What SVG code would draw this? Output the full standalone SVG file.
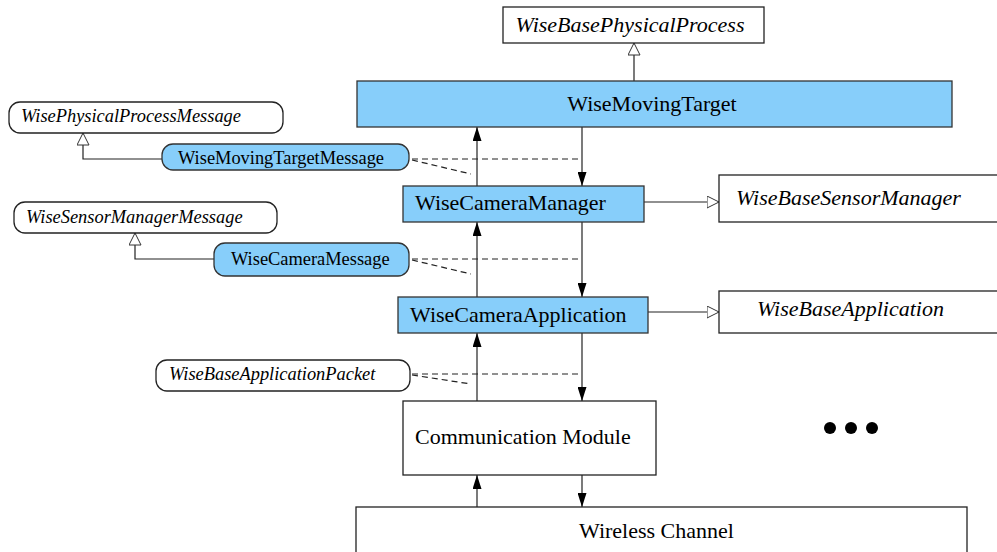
<svg xmlns="http://www.w3.org/2000/svg" width="997" height="552" viewBox="0 0 997 552">
<style>
.bg{fill:#fff}
.blue{fill:#87CEFA;stroke:#333;stroke-width:1.3}
.white{fill:#fff;stroke:#222;stroke-width:1.3}
.t{font-family:"Liberation Serif","Times New Roman",serif;fill:#000}
.big{font-size:22px}
.small{font-size:18.4px}
.it{font-style:italic}
.ln{fill:none;stroke:#222;stroke-width:1.2}
.dash{fill:none;stroke:#222;stroke-width:1.2;stroke-dasharray:6 4}
</style>
<defs>
<marker id="fa" viewBox="0 0 14 9" refX="14" refY="4.5" markerWidth="14" markerHeight="9" markerUnits="userSpaceOnUse" orient="auto"><path d="M0,0 L14,4.5 L0,9 z" fill="#000"/></marker>
<marker id="ha" viewBox="0 0 13 13" refX="12.5" refY="6.5" markerWidth="13" markerHeight="13" markerUnits="userSpaceOnUse" orient="auto"><path d="M0.5,0.5 L12.5,6.5 L0.5,12.5 z" fill="#fff" stroke="#333" stroke-width="1"/></marker>
</defs>
<rect class="bg" x="0" y="0" width="997" height="552"/>

<g id="connectors">
<path class="ln" d="M634,81 L634,43" marker-end="url(#ha)"/>
<path class="ln" d="M162,159 L83,159 L83,133" marker-end="url(#ha)"/>
<path class="ln" d="M214,259 L135,259 L135,233" marker-end="url(#ha)"/>
<path class="ln" d="M644,202 L719,202" marker-end="url(#ha)"/>
<path class="ln" d="M648,312 L719,312" marker-end="url(#ha)"/>
<path class="ln" d="M477,186 L477,127" marker-end="url(#fa)"/>
<path class="ln" d="M477,297 L477,222" marker-end="url(#fa)"/>
<path class="ln" d="M477,401 L477,333" marker-end="url(#fa)"/>
<path class="ln" d="M477,507 L477,475" marker-end="url(#fa)"/>
<path class="ln" d="M582,127 L582,186" marker-end="url(#fa)"/>
<path class="ln" d="M582,222 L582,297" marker-end="url(#fa)"/>
<path class="ln" d="M582,333 L582,401" marker-end="url(#fa)"/>
<path class="ln" d="M582,475 L582,507" marker-end="url(#fa)"/>
<path class="dash" d="M412,159 L582,159"/>
<path class="dash" d="M412,160 L471,174"/>
<path class="dash" d="M412,259 L582,259"/>
<path class="dash" d="M412,260 L471,274"/>
<path class="dash" d="M412,374 L582,374"/>
<path class="dash" d="M412,375 L471,384"/>
</g>

<g id="WiseBasePhysicalProcess">
<rect class="white" x="503" y="7" width="261" height="36"/>
<text class="t big it" x="630" y="32" text-anchor="middle">WiseBasePhysicalProcess</text>
</g>
<g id="WiseMovingTarget">
<rect class="blue" x="357" y="81" width="595" height="46"/>
<text class="t big" x="652" y="111" text-anchor="middle">WiseMovingTarget</text>
</g>
<g id="WisePhysicalProcessMessage">
<rect class="white" x="9" y="102" width="274" height="31" rx="11" ry="11"/>
<text class="t small it" x="21" y="122">WisePhysicalProcessMessage</text>
</g>
<g id="WiseMovingTargetMessage">
<rect class="blue" x="162" y="144" width="247" height="26" rx="11" ry="11"/>
<text class="t small" x="178" y="164">WiseMovingTargetMessage</text>
</g>
<g id="WiseCameraManager">
<rect class="blue" x="403" y="186" width="241" height="36"/>
<text class="t big" x="415" y="210">WiseCameraManager</text>
</g>
<g id="WiseBaseSensorManager">
<rect class="white" x="719" y="175" width="290" height="47"/>
<text class="t big it" x="736" y="205">WiseBaseSensorManager</text>
</g>
<g id="WiseSensorManagerMessage">
<rect class="white" x="14" y="202" width="263" height="31" rx="11" ry="11"/>
<text class="t small it" x="26" y="223">WiseSensorManagerMessage</text>
</g>
<g id="WiseCameraMessage">
<rect class="blue" x="214" y="243" width="195" height="33" rx="11" ry="11"/>
<text class="t small" x="231" y="265">WiseCameraMessage</text>
</g>
<g id="WiseCameraApplication">
<rect class="blue" x="398" y="297" width="250" height="36"/>
<text class="t big" x="410" y="322">WiseCameraApplication</text>
</g>
<g id="WiseBaseApplication">
<rect class="white" x="719" y="291" width="290" height="42"/>
<text class="t big it" x="757" y="316">WiseBaseApplication</text>
</g>
<g id="WiseBaseApplicationPacket">
<rect class="white" x="156" y="360" width="254" height="31" rx="11" ry="11"/>
<text class="t small it" x="169" y="380">WiseBaseApplicationPacket</text>
</g>
<g id="CommunicationModule">
<rect class="white" x="403" y="401" width="253" height="74"/>
<text class="t big" x="415" y="444">Communication Module</text>
</g>
<g id="WirelessChannel">
<rect class="white" x="356" y="507" width="611" height="60"/>
<text class="t big" x="579" y="538">Wireless Channel</text>
</g>
<g id="ellipsis">
<circle cx="830" cy="428" r="6" fill="#000"/>
<circle cx="851" cy="428" r="6" fill="#000"/>
<circle cx="872" cy="428" r="6" fill="#000"/>
</g>
</svg>
